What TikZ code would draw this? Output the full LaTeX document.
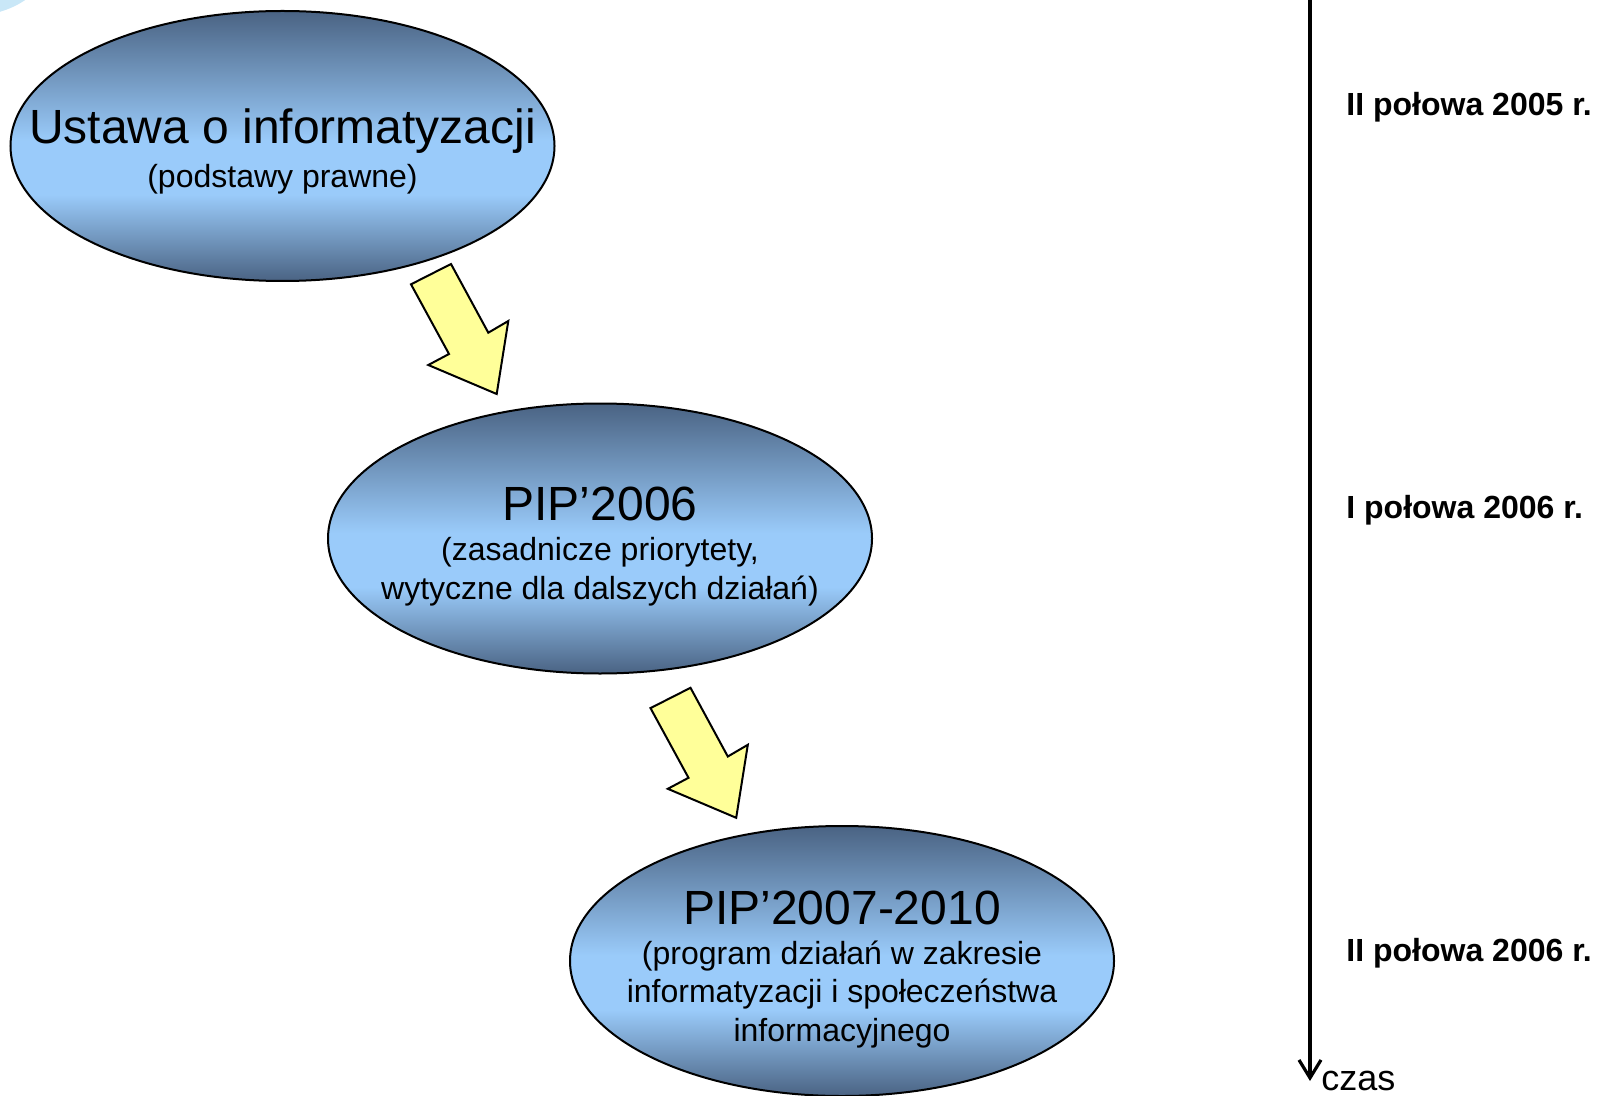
\documentclass[tikz,border=0pt]{standalone}
\usepackage{fontspec}
\setmainfont{Liberation Sans}
\usetikzlibrary{shapes.geometric,arrows.meta}
\definecolor{dk}{HTML}{4A6383}
\definecolor{lt}{HTML}{9ACBFA}
\definecolor{arrowfill}{HTML}{FFFF99}
\definecolor{blob}{HTML}{C9E7F7}
\pgfdeclareverticalshading{ellshade}{100bp}{color(0bp)=(dk); color(25bp)=(dk); color(41bp)=(lt); color(51bp)=(lt); color(75bp)=(dk); color(100bp)=(dk)}
\tikzset{
  ell/.style={ellipse, draw=black, line width=1pt, shading=ellshade, minimum width=272pt, minimum height=135pt, inner sep=0pt},
  title/.style={font=\fontsize{24}{28.8}\selectfont, inner sep=0pt},
  sub/.style={font=\fontsize{16}{19.4}\selectfont, align=center, inner sep=0pt},
  datelbl/.style={font=\fontsize{16}{19.2}\selectfont\bfseries, anchor=west, inner sep=0pt},
  blockarrow/.style={fill=arrowfill, draw=black, line width=1pt, line join=miter},
}
\begin{document}
\begin{tikzpicture}[x=0.5pt,y=-0.5pt]
\useasboundingbox (0,0) rectangle (1605,1096);
\begin{scope}
\clip (0,0) rectangle (1605,1096);
\fill[blob] (-30,-42) ellipse [x radius=80, y radius=58];
% ellipses
\node[ell] (e1) at (282.5,146) {};
\node[ell] (e2) at (600,538.5) {};
\node[ell] (e3) at (842,961) {};
\end{scope}
% texts
\node[title] (t1) at (282.5,131) {Ustawa o informatyzacji};
\node[sub] (s1) at (282.5,179) {(podstawy prawne)};
\node[title] (t2) at (600,504) {PIP’2006};
\node[sub] (s2) at (600,572) {(zasadnicze priorytety,\\wytyczne dla dalszych działań)};
\node[title] (t3) at (842,907.5) {PIP’2007-2010};
\node[sub] (s3) at (842,994.5) {(program działań w zakresie\\informatyzacji i społeczeństwa\\informacyjnego};
% block arrows
\draw[blockarrow] (411,284.3) -- (451,264) -- (488.3,332.7) -- (508.3,321) -- (496.7,394) -- (428.3,365) -- (449,354) -- cycle;
\begin{scope}[shift={(239.5,423.8)}]
\draw[blockarrow] (411,284.3) -- (451,264) -- (488.3,332.7) -- (508.3,321) -- (496.7,394) -- (428.3,365) -- (449,354) -- cycle;
\end{scope}
% time axis
\coordinate (ax0) at (1310,-2);
\coordinate (ax1) at (1310,1081);
\draw[line width=1.6pt, -{Straight Barb[length=9pt,width=11pt,line width=1.6pt]}] (ax0) -- (ax1);
\node[font=\fontsize{18}{21.6}\selectfont, anchor=base west, inner sep=0pt] (czas) at (1321,1090) {czas};
\node[datelbl] (d1) at (1346,107.5) {II połowa 2005 r.};
\node[datelbl] (d2) at (1346,510.5) {I połowa 2006 r.};
\node[datelbl] (d3) at (1346,953) {II połowa 2006 r.};
\end{tikzpicture}
\end{document}
